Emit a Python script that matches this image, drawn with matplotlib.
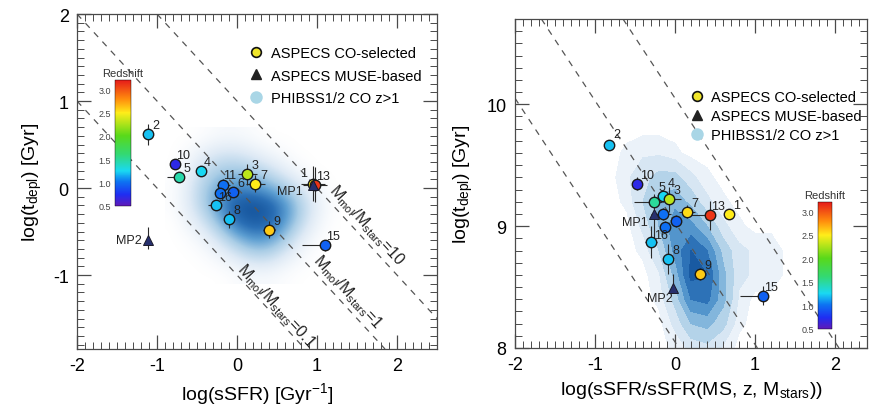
import numpy as np
import matplotlib
matplotlib.use('Agg')
import matplotlib.pyplot as plt
from matplotlib.colors import LinearSegmentedColormap, Normalize
from matplotlib.ticker import MultipleLocator
from matplotlib.lines import Line2D
from matplotlib.cm import ScalarMappable

plt.rcParams['font.family'] = ['Liberation Sans', 'DejaVu Sans']
plt.rcParams['mathtext.fontset'] = 'custom'
plt.rcParams['mathtext.rm'] = 'Liberation Sans'
plt.rcParams['mathtext.it'] = 'Liberation Sans'
plt.rcParams['axes.unicode_minus'] = False

# ---------------- data: left panel (log sSFR vs log t_depl) ----------------
L_ids = ['2', '10', '5', '4', '3', '7', '11', '6', '16', '14', '8', '9', '15', '1', '13']
L_x = [-1.11, -0.77, -0.72, -0.45, 0.13, 0.23, -0.17, -0.05, -0.21, -0.26, -0.10, 0.40, 1.10, 0.95, 0.97]
L_y = [0.62, 0.28, 0.13, 0.19, 0.16, 0.05, 0.04, -0.04, -0.06, -0.20, -0.36, -0.48, -0.66, 0.05, 0.04]
L_z = [1.2, 0.7, 1.45, 1.25, 2.3, 2.5, 1.0, 0.95, 1.0, 1.2, 1.2, 2.6, 0.95, 2.5, 3.1]
L_xlo = [0, 0, 0.15, 0, 0.12, 0.12, 0.08, 0.06, 0, 0.10, 0, 0.08, 0.29, 0.15, 0.15]
L_xhi = [0, 0, 0, 0, 0.12, 0.12, 0.08, 0.06, 0, 0, 0, 0.08, 0, 0.15, 0.15]
L_yerr = [0.12, 0, 0.04, 0, 0.12, 0.10, 0.06, 0.05, 0, 0.05, 0.10, 0.10, 0.06, 0.20, 0.20]
L_label = ['2', '10', '5', '4', '3', '7', '11', '6', '16', '', '8', '9', '15', '1', '13']
L_mp_ids = ['MP1', 'MP2']
L_mp_x = [0.95, -1.11]
L_mp_y = [0.03, -0.60]
L_mp_ylo = [0.05, 0.10]
L_mp_yhi = [0.05, 0.15]
L_ratio = [-1, 0, 1]  # log(Mmol/Mstars) offsets of dashed lines
L_ratio_txt = ['0.1', '1', '10']

# ---------------- data: right panel (log sSFR/sSFR_MS vs log t_depl) ----------------
R_ids = ['2', '10', '4', '3', '5', '11', '7', '13', '1', '6', '16', '14', '8', '9', '15']
R_x = [-0.83, -0.47, -0.15, -0.08, -0.26, -0.15, 0.15, 0.44, 0.67, 0.01, -0.13, -0.30, -0.09, 0.31, 1.10]
R_y = [9.67, 9.35, 9.25, 9.22, 9.20, 9.10, 9.12, 9.09, 9.10, 9.04, 8.99, 8.87, 8.73, 8.61, 8.43]
R_z = [1.2, 0.7, 1.25, 2.3, 1.5, 1.0, 2.55, 3.1, 2.5, 0.95, 1.0, 1.2, 1.2, 2.6, 0.95]
R_xlo = [0, 0, 0, 0.15, 0.25, 0.15, 0.10, 0.29, 0, 0.05, 0, 0.08, 0.06, 0, 0.29]
R_xhi = [0, 0, 0, 0.15, 0.10, 0.10, 0.10, 0, 0, 0.05, 0, 0.08, 0.06, 0, 0]
R_yerr = [0, 0.05, 0.05, 0.10, 0.06, 0.05, 0.05, 0.12, 0, 0.05, 0.05, 0.13, 0.12, 0.05, 0.08]
R_label = ['2', '10', '4', '3', '5', '', '7', '13', '1', '', '16', '', '8', '9', '15']
R_mp_ids = ['MP1', 'MP2']
R_mp_x = [-0.26, -0.02]
R_mp_y = [9.10, 8.49]
R_mp_ylo = [0.20, 0.04]
R_mp_yhi = [0.04, 0.12]
R_lines = [8.05, 9.03, 10.05]

# ---------------- PHIBSS density (read from shading) ----------------
L_dens_x = np.arange(-0.8, 1.21, 0.2)
L_dens_y = np.arange(0.6, -1.01, -0.2)
L_dens = np.array([
    [0, 0, 0.02, 0.05, 0.05, 0.03, 0, 0, 0, 0, 0],
    [0, 0.05, 0.15, 0.22, 0.22, 0.15, 0.08, 0.03, 0, 0, 0],
    [0, 0.12, 0.30, 0.40, 0.42, 0.38, 0.28, 0.15, 0.05, 0, 0],
    [0.02, 0.18, 0.40, 0.58, 0.70, 0.66, 0.55, 0.40, 0.22, 0.08, 0],
    [0.02, 0.18, 0.40, 0.68, 0.95, 1.00, 0.92, 0.68, 0.38, 0.15, 0.02],
    [0, 0.10, 0.25, 0.50, 0.80, 0.92, 0.88, 0.62, 0.32, 0.10, 0],
    [0, 0.02, 0.10, 0.25, 0.45, 0.60, 0.58, 0.38, 0.15, 0.03, 0],
    [0, 0, 0.02, 0.08, 0.18, 0.28, 0.28, 0.15, 0.05, 0, 0],
    [0, 0, 0, 0, 0.03, 0.05, 0.05, 0.02, 0, 0, 0],
])
R_dens_x = np.arange(-0.8, 1.41, 0.2)
R_dens_y = np.arange(9.8, 7.99, -0.2)
R_dens = np.array([
    [0, 0, 0, 0, 0, 0, 0, 0, 0, 0, 0, 0],
    [0, 0.05, 0.10, 0.10, 0.05, 0, 0, 0, 0, 0, 0, 0],
    [0, 0.10, 0.20, 0.30, 0.30, 0.15, 0.05, 0, 0, 0, 0, 0],
    [0, 0.05, 0.25, 0.45, 0.50, 0.35, 0.15, 0.05, 0, 0, 0, 0],
    [0, 0, 0.15, 0.40, 0.65, 0.60, 0.40, 0.15, 0.05, 0, 0, 0],
    [0, 0, 0.05, 0.25, 0.60, 0.85, 0.70, 0.35, 0.15, 0.10, 0.10, 0],
    [0, 0, 0, 0.10, 0.45, 0.90, 0.85, 0.45, 0.15, 0.10, 0.10, 0],
    [0, 0, 0, 0.05, 0.30, 0.70, 0.75, 0.45, 0.10, 0, 0, 0],
    [0, 0, 0, 0, 0.15, 0.40, 0.45, 0.30, 0.05, 0, 0, 0],
    [0, 0, 0, 0, 0.05, 0.15, 0.20, 0.10, 0, 0, 0, 0],
])

legend_labels = ['ASPECS CO-selected', 'ASPECS MUSE-based', 'PHIBSS1/2 CO z>1']
cb_ticks = [0.5, 1.0, 1.5, 2.0, 2.5, 3.0]

# ---------------- styles ----------------
zcmap = LinearSegmentedColormap.from_list('z', [
    (0.0, (0.38, 0.10, 0.72)), (0.09, (0.12, 0.18, 0.95)), (0.19, (0.05, 0.45, 0.95)),
    (0.28, (0.10, 0.85, 0.95)), (0.41, (0.20, 0.85, 0.45)), (0.56, (0.35, 0.85, 0.10)),
    (0.74, (1.00, 0.93, 0.10)), (0.85, (1.00, 0.55, 0.05)), (1.0, (0.90, 0.10, 0.10))])
znorm = Normalize(0.5, 3.2)
dcmap = LinearSegmentedColormap.from_list('d', ['#ffffff', '#dde9f5', '#a9cde6', '#5e9fd2', '#2a6fb5', '#114f98'])
GRAY = '#4a4a4a'
fig = plt.figure(figsize=(8.7, 4.14), dpi=100)


def style_axes(ax):
    for s in ax.spines.values():
        s.set_color(GRAY)
        s.set_linewidth(0.9)
    ax.xaxis.set_major_locator(MultipleLocator(1))
    ax.xaxis.set_minor_locator(MultipleLocator(0.1))
    ax.yaxis.set_major_locator(MultipleLocator(1))
    ax.yaxis.set_minor_locator(MultipleLocator(0.1))
    ax.tick_params(which='both', direction='in', top=True, right=True, color=GRAY)
    ax.tick_params(which='major', length=10, width=0.9, labelsize=13, pad=6)
    ax.tick_params(which='minor', length=5, width=0.7)


def draw_points(ax, ids, xs, ys, zs, xlo, xhi, yerr, labels, mp_x, mp_y, mp_lo, mp_hi, mp_ids,
                lab_off, mp_off):
    for i in range(len(xs)):
        if xlo[i] or xhi[i] or yerr[i]:
            ax.errorbar(xs[i], ys[i], xerr=[[xlo[i]], [xhi[i]]], yerr=yerr[i], fmt='none',
                        ecolor='#2a2a2a', elinewidth=0.8, capsize=0, zorder=4)
    for i in range(len(mp_x)):
        ax.errorbar(mp_x[i], mp_y[i], yerr=[[mp_lo[i]], [mp_hi[i]]], fmt='none',
                    ecolor='#2a2a2a', elinewidth=0.8, capsize=0, zorder=4)
        ax.plot(mp_x[i], mp_y[i], marker='^', ms=7, mfc='#27306e', mec='#1a1a2a', mew=0.7,
                ls='none', zorder=6)
        ox, oy = mp_off[mp_ids[i]]
        ax.annotate(mp_ids[i], (mp_x[i], mp_y[i]), xytext=(ox, oy), textcoords='offset pixels',
                    ha='right', va='center', fontsize=9, color='#222222', zorder=7)
    for i in range(len(xs)):
        ax.plot(xs[i], ys[i], marker='o', ms=7.5, mfc=zcmap(znorm(zs[i])), mec='#1a1a1a', mew=1.0,
                ls='none', zorder=5)
        if labels[i]:
            ox, oy = lab_off.get(labels[i], (8, 9))
            ax.annotate(labels[i], (xs[i], ys[i]), xytext=(ox, oy), textcoords='offset pixels',
                        ha='center', va='center', fontsize=9, color='#222222', zorder=7)


def add_colorbar(rect):
    cax = fig.add_axes(rect)
    cb = fig.colorbar(ScalarMappable(norm=znorm, cmap=zcmap), cax=cax, ticks=cb_ticks)
    cb.outline.set_linewidth(0.3)
    cax.yaxis.set_ticks_position('left')
    cax.tick_params(length=0, labelsize=6.5, pad=3, labelcolor='#444444')
    cax.set_yticklabels([f'{t:.1f}' for t in cb_ticks])
    cax.set_title('Redshift', fontsize=8, pad=3, color='#333333')


def add_legend(ax, anchor, spacing):
    h = [Line2D([], [], marker='o', ls='none', ms=7, mfc='#f0e52a', mec='#111111', mew=1.2),
         Line2D([], [], marker='^', ls='none', ms=7, mfc='#222222', mec='#222222'),
         Line2D([], [], marker='o', ls='none', ms=9, mfc='#a9d6e6', mec='none')]
    ax.legend(h, legend_labels, loc='upper left', bbox_to_anchor=anchor, frameon=False,
              fontsize=10.5, handlelength=1.0, handletextpad=0.5, borderpad=0,
              borderaxespad=0, labelspacing=spacing)


# ---------------- left panel ----------------
axL = fig.add_axes([77 / 870, 64 / 414, 360 / 870, 335 / 414])
style_axes(axL)
dx = 0.1
axL.imshow(L_dens, extent=(L_dens_x[0] - dx, L_dens_x[-1] + dx, L_dens_y[-1] - dx, L_dens_y[0] + dx),
           origin='upper', cmap=dcmap, vmin=0, vmax=1, interpolation='bicubic', aspect='auto', zorder=0)
axL.set_xlim(-2, 2.5)
axL.set_ylim(-1.85, 2)
for c in L_ratio:
    axL.axline((0, c), slope=-1, color='#555555', lw=0.9, ls=(0, (5, 5)), zorder=2)
p = axL.transData.transform([(0, 0), (1, -1)])
angL = np.degrees(np.arctan2(p[1, 1] - p[0, 1], p[1, 0] - p[0, 0]))
L_txt_pos = [(0.49, -1.35), (1.38, -1.19), (1.62, -0.42)]
for (tx, ty), r in zip(L_txt_pos, L_ratio_txt):
    axL.text(tx, ty, r'M$_{\mathrm{mol}}$/M$_{\mathrm{stars}}$=' + r, rotation=angL, ha='center',
             va='center', rotation_mode='anchor', fontsize=11.5, color='#222222', zorder=3)
draw_points(axL, L_ids, L_x, L_y, L_z, L_xlo, L_xhi, L_yerr, L_label, L_mp_x, L_mp_y, L_mp_ylo,
            L_mp_yhi, L_mp_ids,
            {'1': (-9, 11), '16': (5, -4), '11': (6, 10), '4': (6, 9)},
            {'MP1': (-10, -6), 'MP2': (-6, 0)})
axL.set_xlabel(r'log(sSFR) [Gyr$^{-1}$]', fontsize=14, labelpad=4)
axL.set_ylabel(r'log(t$_{\mathrm{depl}}$) [Gyr]', fontsize=14, labelpad=6)
add_legend(axL, (0.478, 0.905), 0.6)
add_colorbar([115 / 870, (414 - 207) / 414, 16 / 870, 126 / 414])

# ---------------- right panel ----------------
axR = fig.add_axes([515 / 870, 65 / 414, 352 / 870, 329 / 414])
style_axes(axR)
XR, YR = np.meshgrid(R_dens_x, R_dens_y)
levels = [0.03, 0.12, 0.25, 0.4, 0.55, 0.7, 0.85, 1.01]
axR.contourf(XR, YR, R_dens, levels=levels, cmap=dcmap, vmin=-0.05, vmax=1, zorder=0)
axR.set_xlim(-2, 2.4)
axR.set_ylim(8, 10.7)
for c in R_lines:
    axR.axline((0, c), slope=-1, color='#555555', lw=0.9, ls=(0, (5, 5)), zorder=2)
draw_points(axR, R_ids, R_x, R_y, R_z, R_xlo, R_xhi, R_yerr, R_label, R_mp_x, R_mp_y, R_mp_ylo,
            R_mp_yhi, R_mp_ids,
            {'16': (-4, -8), '5': (8, 15), '4': (8, 13), '10': (10, 9), '2': (8, 11)},
            {'MP1': (-6, -8), 'MP2': (-1, -10)})
axR.set_xlabel(r'log(sSFR/sSFR(MS, z, M$_{\mathrm{stars}}$))', fontsize=14, labelpad=4)
axR.set_ylabel(r'log(t$_{\mathrm{depl}}$) [Gyr]', fontsize=14, labelpad=8)
add_legend(axR, (0.495, 0.785), 0.35)
add_colorbar([818 / 870, (414 - 330) / 414, 14 / 870, 127 / 414])

fig.savefig('out.png', dpi=100)
